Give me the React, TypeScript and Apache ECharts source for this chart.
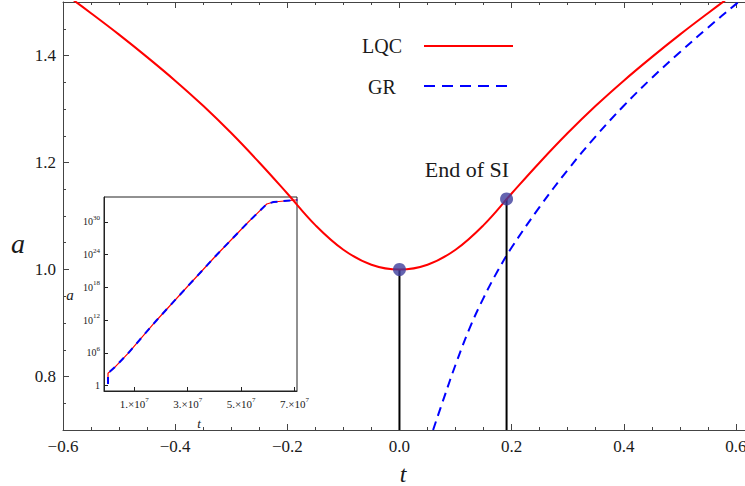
import React, { useEffect, useRef } from "react";
import * as echarts from "echarts";

// Main panel: LQC (bounce) curve, read at regular t steps
const lqcT = [-0.6, -0.55, -0.5, -0.45, -0.4, -0.35, -0.3, -0.25, -0.2, -0.15, -0.1, -0.05, 0, 0.05, 0.1, 0.15, 0.2, 0.25, 0.3, 0.35, 0.4, 0.45, 0.5, 0.55, 0.6];
const lqcA = [1.518, 1.479, 1.439, 1.397, 1.353, 1.306, 1.255, 1.2, 1.142, 1.083, 1.037, 1.009, 1.0, 1.009, 1.037, 1.083, 1.142, 1.2, 1.255, 1.306, 1.353, 1.397, 1.439, 1.479, 1.518];

// Main panel: GR curve
const grT = [0.06, 0.08, 0.1, 0.125, 0.15, 0.175, 0.2, 0.25, 0.3, 0.35, 0.4, 0.45, 0.5, 0.55, 0.6, 0.62];
const grA = [0.7, 0.762, 0.822, 0.89, 0.947, 0.997, 1.041, 1.117, 1.186, 1.249, 1.306, 1.358, 1.406, 1.452, 1.496, 1.513];

// Marked points: bounce and end of super-inflation
const markT = [0, 0.191];
const markA = [1.0, 1.132];

// Inset (log scale in a)
const insetT = [0.02e7, 0.02e7, 0.27e7, 0.77e7, 1.84e7, 2.96e7, 4.09e7, 5.27e7, 5.96e7, 6.21e7, 7.02e7, 7.1e7];
const insetA = [2, 190, 2.3e3, 8.7e5, 1e12, 1e18, 1e24, 1e30, 2e33, 4.6e33, 1.07e34, 1.1e34];
const insetXTicks = [1e7, 3e7, 5e7, 7e7];
const insetYTickExp = [0, 6, 12, 18, 24, 30];

const SERIF = "Liberation Serif";
const TXT = "#1a1a1a";
const AX = "#444";

function buildOption() {
  const lqc = lqcT.map((t, i) => [t, lqcA[i]]);
  const gr = grT.map((t, i) => [t, grA[i]]);
  const marks = markT.map((t, i) => [t, markA[i]]);
  const insetData = insetT.map((t, i) => [t, Math.log10(insetA[i])]);

  const mainX = (pos: string, labels: boolean) => ({
    gridIndex: 0,
    type: "value",
    position: pos,
    min: -0.6,
    max: 0.7,
    interval: 0.2,
    axisLine: { show: true, onZero: false, lineStyle: { color: AX, width: 1 } },
    axisTick: { show: true, inside: true, length: 6, lineStyle: { color: AX } },
    minorTick: { show: true, splitNumber: 4, length: 3, lineStyle: { color: AX } },
    splitLine: { show: false },
    axisLabel: {
      show: labels,
      showMaxLabel: false,
      margin: 8,
      fontFamily: SERIF,
      fontSize: 17,
      color: TXT,
      formatter: (v: number) => (v < 0 ? "\u2212" + Math.abs(v).toFixed(1) : v.toFixed(1)),
    },
  });

  const vLines = marks.map((p) => ({
    type: "line",
    xAxisIndex: 0,
    yAxisIndex: 0,
    data: [[p[0], 0.7], [p[0], p[1]]],
    showSymbol: false,
    lineStyle: { color: "#000", width: 2 },
    z: 3,
  }));

  return {
    animation: false,
    backgroundColor: "#fff",
    textStyle: { fontFamily: SERIF },
    grid: [
      { left: 63, top: 2, right: 0, bottom: 56, containLabel: false },
      { left: 104, top: 197, width: 193, height: 194, show: true, borderColor: "#222", borderWidth: 1, backgroundColor: "#fff", z: 5 },
    ],
    xAxis: [
      mainX("bottom", true),
      mainX("top", false),
      {
        gridIndex: 1,
        type: "value",
        min: -0.13e7,
        max: 7.09e7,
        axisLine: { show: true, onZero: false, lineStyle: { color: "#222" } },
        axisTick: { show: true, inside: true, length: 4, customValues: insetXTicks, lineStyle: { color: "#222" } },
        splitLine: { show: false },
        axisLabel: {
          customValues: insetXTicks,
          margin: 5,
          color: TXT,
          fontFamily: SERIF,
          formatter: (v: number) => `{n|${Math.round(v / 1e7)}.\u00d710}{s|7}`,
          rich: {
            n: { fontFamily: SERIF, fontSize: 11, color: TXT },
            s: { fontFamily: SERIF, fontSize: 7, color: TXT, padding: [0, 0, 8, 0] },
          },
        },
        z: 6,
      },
    ],
    yAxis: [
      {
        gridIndex: 0,
        type: "value",
        position: "left",
        min: 0.7,
        max: 1.5,
        splitNumber: 4,
        axisLine: { show: true, onZero: false, lineStyle: { color: AX, width: 1 } },
        axisTick: { show: true, inside: true, length: 6, lineStyle: { color: AX } },
        splitLine: { show: false },
        axisLabel: {
          showMinLabel: false,
          showMaxLabel: false,
          margin: 7,
          fontFamily: SERIF,
          fontSize: 17,
          color: TXT,
          formatter: (v: number) => v.toFixed(1),
        },
      },
      {
        gridIndex: 0,
        type: "value",
        position: "left",
        offset: 0,
        min: 0.7,
        max: 1.5,
        interval: 0.05,
        axisLine: { show: false, onZero: false },
        axisTick: { show: true, inside: true, length: 3, lineStyle: { color: AX } },
        splitLine: { show: false },
        axisLabel: { show: false },
      },
      {
        gridIndex: 1,
        type: "value",
        position: "left",
        min: -0.97,
        max: 34.58,
        axisLine: { show: true, onZero: false, lineStyle: { color: "#222" } },
        axisTick: { show: true, inside: true, length: 4, customValues: insetYTickExp, lineStyle: { color: "#222" } },
        splitLine: { show: false },
        axisLabel: {
          customValues: insetYTickExp,
          margin: 4,
          color: TXT,
          fontFamily: SERIF,
          formatter: (v: number) => (v === 0 ? "{n|1}" : `{n|10}{s|${v}}`),
          rich: {
            n: { fontFamily: SERIF, fontSize: 10, color: TXT },
            s: { fontFamily: SERIF, fontSize: 7, color: TXT, padding: [0, 0, 8, 0] },
          },
        },
        z: 6,
      },
    ],
    series: [
      ...vLines,
      {
        type: "line",
        name: "GR",
        xAxisIndex: 0,
        yAxisIndex: 0,
        data: gr,
        smooth: 0.4,
        showSymbol: false,
        lineStyle: { color: "#0000ff", width: 2, type: [9, 6] },
        z: 2,
      },
      {
        type: "line",
        name: "LQC",
        xAxisIndex: 0,
        yAxisIndex: 0,
        data: lqc,
        smooth: 0.4,
        showSymbol: false,
        lineStyle: { color: "#ff0000", width: 2 },
        z: 7,
      },
      {
        type: "scatter",
        xAxisIndex: 0,
        yAxisIndex: 0,
        data: marks,
        symbolSize: 13,
        itemStyle: { color: "#3d3d9c" },
        z: 8,
      },
      {
        type: "line",
        xAxisIndex: 2,
        yAxisIndex: 2,
        data: insetData,
        showSymbol: false,
        lineStyle: { color: "#ff0000", width: 1.2 },
        z: 6,
      },
      {
        type: "line",
        xAxisIndex: 2,
        yAxisIndex: 2,
        data: insetData,
        showSymbol: false,
        lineStyle: { color: "#0000ff", width: 2, type: [7, 6] },
        z: 6,
      },
    ],
    graphic: [
      { type: "text", x: 382, y: 46, z: 10, style: { text: "LQC", fontFamily: SERIF, fontSize: 20, fill: TXT, align: "center", verticalAlign: "middle" } },
      { type: "line", z: 10, shape: { x1: 424, y1: 46, x2: 513, y2: 46 }, style: { stroke: "#ff0000", lineWidth: 2 } },
      { type: "text", x: 382, y: 87, z: 10, style: { text: "GR", fontFamily: SERIF, fontSize: 20, fill: TXT, align: "center", verticalAlign: "middle" } },
      { type: "line", z: 10, shape: { x1: 424, y1: 86, x2: 512, y2: 86 }, style: { stroke: "#0000ff", lineWidth: 2, lineDash: [11, 7] } },
      { type: "text", x: 467, y: 169, z: 10, style: { text: "End of SI", fontFamily: SERIF, fontSize: 22, fill: TXT, align: "center", verticalAlign: "middle" } },
      { type: "text", x: 18, y: 243, z: 10, style: { text: "a", fontFamily: SERIF, fontStyle: "italic", fontSize: 28, fill: TXT, align: "center", verticalAlign: "middle" } },
      { type: "text", x: 403, y: 474, z: 10, style: { text: "t", fontFamily: SERIF, fontStyle: "italic", fontSize: 24, fill: TXT, align: "center", verticalAlign: "middle" } },
      { type: "text", x: 70, y: 295, z: 10, style: { text: "a", fontFamily: SERIF, fontStyle: "italic", fontSize: 15, fill: TXT, align: "center", verticalAlign: "middle" } },
      { type: "text", x: 199, y: 423, z: 10, style: { text: "t", fontFamily: SERIF, fontStyle: "italic", fontSize: 13, fill: TXT, align: "center", verticalAlign: "middle" } },
    ],
  };
}

export default function App() {
  const ref = useRef<HTMLDivElement>(null);
  useEffect(() => {
    if (!ref.current) return;
    const chart = echarts.init(ref.current, null, { renderer: "svg" });
    chart.setOption(buildOption() as any);
    return () => chart.dispose();
  }, []);
  return (
    <div style={{ position: "fixed", left: 0, top: 0, width: 745, height: 486, overflow: "hidden", background: "#fff" }}>
      <div ref={ref} style={{ position: "absolute", left: 0, top: 0, width: 792, height: 486 }} />
    </div>
  );
}
